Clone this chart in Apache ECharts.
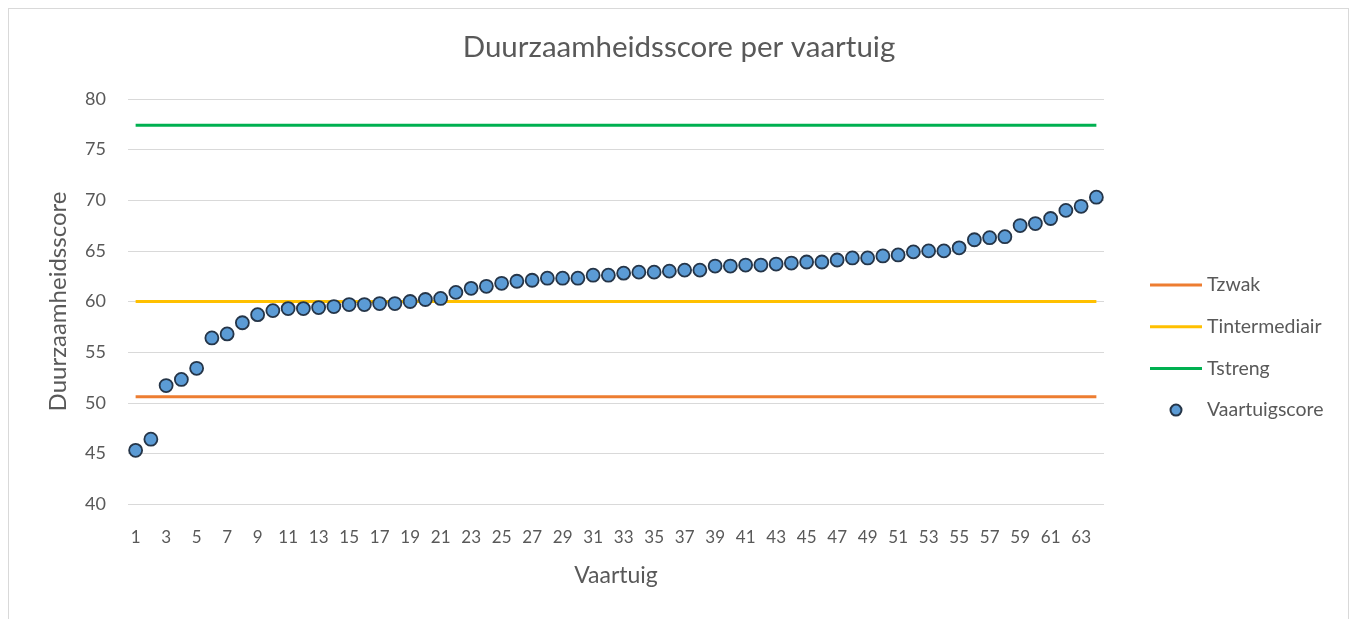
<!DOCTYPE html>
<html>
<head>
<meta charset="utf-8">
<script src="https://cdn.jsdelivr.net/npm/echarts@6/dist/echarts.min.js"></script>
<style>
  html, body { margin: 0; padding: 0; background: #fff; }
  #frame { position: absolute; left: 8px; top: 8px; width: 1341px; height: 640px; border: 1px solid #d9d9d9; box-sizing: border-box; }
  #chart { position: absolute; left: 0; top: 0; width: 1358px; height: 619px; }
</style>
</head>
<body>
<div id="frame"></div>
<div id="chart"></div>
<script>
'use strict'
var categories = ['1','2','3','4','5','6','7','8','9','10','11','12','13','14','15','16',
  '17','18','19','20','21','22','23','24','25','26','27','28','29','30','31','32',
  '33','34','35','36','37','38','39','40','41','42','43','44','45','46','47','48',
  '49','50','51','52','53','54','55','56','57','58','59','60','61','62','63','64'];

var vaartuigscore = [45.3, 46.4, 51.7, 52.3, 53.4, 56.4, 56.8, 57.9, 58.7, 59.1,
  59.3, 59.3, 59.4, 59.5, 59.7, 59.7, 59.8, 59.8, 60.0, 60.2,
  60.3, 60.9, 61.3, 61.5, 61.8, 62.0, 62.1, 62.3, 62.3, 62.3,
  62.6, 62.6, 62.8, 62.9, 62.9, 63.0, 63.1, 63.1, 63.5, 63.5,
  63.6, 63.6, 63.7, 63.8, 63.9, 63.9, 64.1, 64.3, 64.3, 64.5,
  64.6, 64.9, 65.0, 65.0, 65.3, 66.1, 66.3, 66.4, 67.5, 67.7,
  68.2, 69.0, 69.4, 70.3];

var tZwak = 50.6;
var tIntermediair = 60;
var tStreng = 77.4;

var yTicks = { min: 40, max: 80, interval: 5 };

var firstCat = categories[0];
var lastCat = categories[categories.length - 1];

var txt = '#595959';
var font = 'Lato, "Open Sans", sans-serif';
// flat bar used as legend icon for the threshold lines
var lineIcon = 'path://M0,0H52V3H0Z';

var chart = echarts.init(document.getElementById('chart'));
chart.setOption({
  backgroundColor: 'transparent',
  textStyle: { fontFamily: font, color: txt },
  title: {
    text: 'Duurzaamheidsscore per vaartuig',
    left: 'center',
    top: 27,
    textStyle: { fontFamily: font, fontSize: 29.5, fontWeight: 'normal', color: txt }
  },
  grid: { left: 128, right: 254, top: 99, bottom: 115 },
  legend: {
    orient: 'vertical',
    left: 1145,
    top: 270,
    itemWidth: 52,
    itemHeight: 11,
    itemGap: 21.7,
    textStyle: { fontFamily: font, fontSize: 19.5, color: txt },
    data: [
      { name: 'Tzwak', icon: lineIcon },
      { name: 'Tintermediair', icon: lineIcon },
      { name: 'Tstreng', icon: lineIcon },
      { name: 'Vaartuigscore' }
    ]
  },
  xAxis: {
    type: 'category',
    data: categories,
    boundaryGap: true,
    name: 'Vaartuig',
    nameLocation: 'middle',
    nameGap: 60,
    nameTextStyle: { fontFamily: font, fontSize: 23, color: txt },
    axisLine: { show: false },
    axisTick: { show: false },
    axisLabel: { interval: 1, margin: 25, fontSize: 17, color: txt, fontFamily: font }
  },
  yAxis: {
    type: 'value',
    min: yTicks.min,
    max: yTicks.max,
    interval: yTicks.interval,
    name: 'Duurzaamheidsscore',
    nameLocation: 'middle',
    nameGap: 58,
    nameTextStyle: { fontFamily: font, fontSize: 24, color: txt },
    axisLine: { show: false },
    axisTick: { show: false },
    axisLabel: { margin: 22, fontSize: 18, color: txt, fontFamily: font },
    splitLine: { lineStyle: { color: '#d9d9d9', width: 1 } }
  },
  series: [
    {
      name: 'Tzwak', type: 'line', symbol: 'none', silent: true,
      lineStyle: { color: '#ed7d31', width: 3 }, itemStyle: { color: '#ed7d31' },
      data: [[firstCat, tZwak], [lastCat, tZwak]]
    },
    {
      name: 'Tintermediair', type: 'line', symbol: 'none', silent: true,
      lineStyle: { color: '#ffc000', width: 3 }, itemStyle: { color: '#ffc000' },
      data: [[firstCat, tIntermediair], [lastCat, tIntermediair]]
    },
    {
      name: 'Tstreng', type: 'line', symbol: 'none', silent: true,
      lineStyle: { color: '#00b050', width: 3 }, itemStyle: { color: '#00b050' },
      data: [[firstCat, tStreng], [lastCat, tStreng]]
    },
    {
      name: 'Vaartuigscore', type: 'scatter', z: 5,
      symbol: 'circle', symbolSize: 13,
      itemStyle: { color: '#5b9bd5', borderColor: '#253548', borderWidth: 1.8, opacity: 1 },
      data: vaartuigscore
    }
  ]
});
</script>
</body>
</html>
